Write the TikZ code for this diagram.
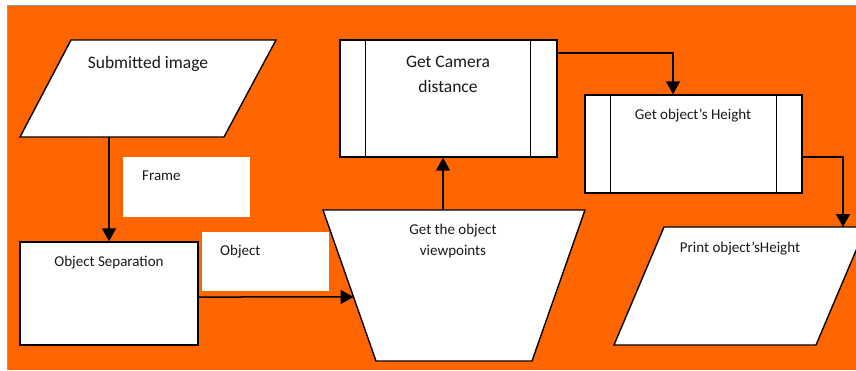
\documentclass[tikz,border=0pt]{standalone}
\usepackage{fontspec}
\setmainfont{Carlito}
\usetikzlibrary{arrows.meta,calc}
\definecolor{bgorange}{HTML}{FF6600}
\definecolor{edgegray}{HTML}{9A9A9A}
\begin{document}
\begin{tikzpicture}[x=1pt,y=-1pt,
  area/.style={draw=none, inner sep=0pt, outer sep=0pt},
  shp/.style={draw=black, line width=1.4pt, fill=white, line join=miter},
  tagbox/.style={fill=white, inner sep=0pt, outer sep=0pt},
  big/.style={font=\fontsize{17.5}{20}\selectfont, text=black!90, inner sep=0pt, anchor=base},
  small/.style={font=\fontsize{15}{17}\selectfont, text=black!90, inner sep=0pt, anchor=base},
  arr/.style={line width=1.5pt, -{Triangle[length=13pt,width=14pt]}},
  wire/.style={line width=1.5pt}]
\useasboundingbox (0,0) rectangle (856,370);
% background panel
\fill[bgorange] (7,5) rectangle (856,370);
\draw[edgegray, line width=1pt] (7,370) -- (7,5) -- (856,5);

% input: submitted image
\node[area, minimum width=256pt, minimum height=97pt] (subm) at (148,88.5) {};
\draw[shp] ([xshift=51pt]subm.north west) -- (subm.north east)
  -- ([xshift=-52pt]subm.south east) -- (subm.south west) -- cycle;
\node[big] (submt) at (148,68) {Submitted image};

% label boxes
\node[tagbox, minimum width=127pt, minimum height=60pt] (framebox) at (186.5,187) {};
\node[small, anchor=base west] (framet) at (142,180) {Frame};
\node[tagbox, minimum width=127pt, minimum height=59pt] (objbox) at (265.5,261.5) {};
\node[small, anchor=base west] (objt) at (220,255) {Object};

% object separation
\node[shp, minimum width=178pt, minimum height=103pt, inner sep=0pt] (sep) at (109,293.5) {};
\node[small] (sept) at (109,266) {Object Separation};

% viewpoints (trapezium)
\node[area, minimum width=262pt, minimum height=151pt] (trap) at (454,285.5) {};
\draw[shp] (trap.north west) -- (trap.north east)
  -- ([xshift=-53pt]trap.south east) -- ([xshift=53pt]trap.south west) -- cycle;
\node[small] (trapt1) at (453,234) {Get the object};
\node[small] (trapt2) at (453,255) {viewpoints};
\coordinate (trapin) at ($(trap.north west)!0.576!([xshift=53pt]trap.south west)$);

% camera distance (predefined process)
\node[shp, minimum width=217pt, minimum height=117pt, inner sep=0pt] (cam) at (448.5,98.5) {};
\draw[line width=1.4pt] ([xshift=26pt]cam.north west) -- ([xshift=26pt]cam.south west);
\draw[line width=1.4pt] ([xshift=-27pt]cam.north east) -- ([xshift=-27pt]cam.south east);
\node[big] (camt1) at (448,67) {Get Camera};
\node[big] (camt2) at (448,92) {distance};

% object height (predefined process)
\node[shp, minimum width=217pt, minimum height=98pt, inner sep=0pt] (hgt) at (693.5,144) {};
\draw[line width=1.4pt] ([xshift=26pt]hgt.north west) -- ([xshift=26pt]hgt.south west);
\draw[line width=1.4pt] ([xshift=-26pt]hgt.north east) -- ([xshift=-26pt]hgt.south east);
\node[small] (hgtt) at (693,119) {Get object’s Height};

% output: print height
\node[area, minimum width=252pt, minimum height=118pt] (prt) at (740,286) {};
\draw[shp] ([xshift=50pt]prt.north west) -- (prt.north east)
  -- ([xshift=-50pt]prt.south east) -- (prt.south west) -- cycle;
\node[small] (prtt) at (740,252) {Print object’sHeight};

% connectors
\draw[arr] (sep.north |- subm.south) -- (sep.north);
\draw[arr] ([yshift=-3.5pt]sep.east) -- (trapin);
\draw[arr] ([xshift=-5.5pt]cam.south |- trap.north) -- ([xshift=-5.5pt]cam.south);
\draw[arr] ([yshift=45.5pt]cam.east) -| ([xshift=-20.5pt]hgt.north);
\draw[arr] ([yshift=-13pt]hgt.east) -| ([xshift=103pt]prt.north);
\end{tikzpicture}
\end{document}
